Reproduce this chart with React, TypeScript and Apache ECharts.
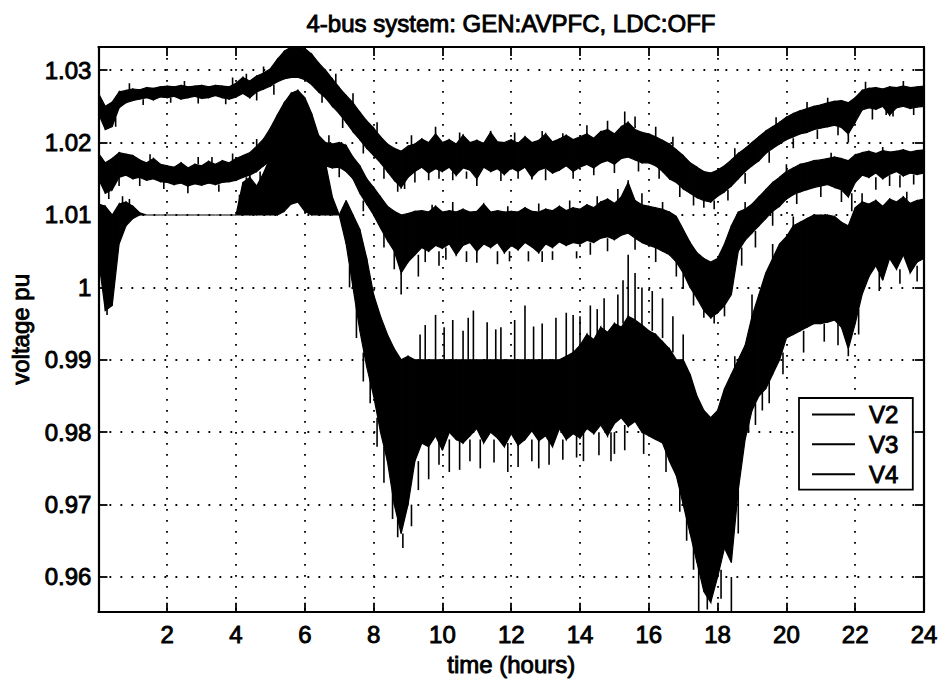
import React, { useEffect, useRef } from "react";
import * as echarts from "echarts";

// Sample times (hours), every 0.2 h over the day
const hours = [
  0, 0.2, 0.4, 0.6, 0.8, 1, 1.2, 1.4, 1.6, 1.8,
  2, 2.2, 2.4, 2.6, 2.8, 3, 3.2, 3.4, 3.6, 3.8,
  4, 4.2, 4.4, 4.6, 4.8, 5, 5.2, 5.4, 5.6, 5.8,
  6, 6.2, 6.4, 6.6, 6.8, 7, 7.2, 7.4, 7.6, 7.8,
  8, 8.2, 8.4, 8.6, 8.8, 9, 9.2, 9.4, 9.6, 9.8,
  10, 10.2, 10.4, 10.6, 10.8, 11, 11.2, 11.4, 11.6, 11.8,
  12, 12.2, 12.4, 12.6, 12.8, 13, 13.2, 13.4, 13.6, 13.8,
  14, 14.2, 14.4, 14.6, 14.8, 15, 15.2, 15.4, 15.6, 15.8,
  16, 16.2, 16.4, 16.6, 16.8, 17, 17.2, 17.4, 17.6, 17.8,
  18, 18.2, 18.4, 18.6, 18.8, 19, 19.2, 19.4, 19.6, 19.8,
  20, 20.2, 20.4, 20.6, 20.8, 21, 21.2, 21.4, 21.6, 21.8,
  22, 22.2, 22.4, 22.6, 22.8, 23, 23.2, 23.4, 23.6, 23.8,
  24,
];

// Bus voltages (pu): lower and upper edge of the fluctuation band per sample
const v2Low = [
  1.0240, 1.0218, 1.0222, 1.0248, 1.0255, 1.0258, 1.0260, 1.0262, 1.0259, 1.0263,
  1.0262, 1.0264, 1.0260, 1.0262, 1.0264, 1.0261, 1.0262, 1.0265, 1.0262, 1.0260,
  1.0263, 1.0268, 1.0262, 1.0270, 1.0274, 1.0278, 1.0284, 1.0288, 1.0290, 1.0290,
  1.0287, 1.0280, 1.0270, 1.0262, 1.0250, 1.0240, 1.0228, 1.0215, 1.0204, 1.0192,
  1.0182, 1.0172, 1.0160, 1.0148, 1.0138, 1.0152, 1.0160, 1.0166, 1.0158, 1.0164,
  1.0160, 1.0166, 1.0155, 1.0165, 1.0162, 1.0150, 1.0166, 1.0160, 1.0164, 1.0156,
  1.0165, 1.0160, 1.0166, 1.0152, 1.0162, 1.0165, 1.0158, 1.0162, 1.0168, 1.0160,
  1.0166, 1.0170, 1.0165, 1.0172, 1.0175, 1.0170, 1.0178, 1.0180, 1.0176, 1.0172,
  1.0172, 1.0168, 1.0160, 1.0150, 1.0145, 1.0136, 1.0130, 1.0124, 1.0120, 1.0118,
  1.0126, 1.0132, 1.0140, 1.0150, 1.0160, 1.0168, 1.0175, 1.0185, 1.0192, 1.0198,
  1.0204, 1.0208, 1.0212, 1.0214, 1.0218, 1.0220, 1.0222, 1.0224, 1.0221, 1.0212,
  1.0228, 1.0245, 1.0248, 1.0246, 1.0250, 1.0238, 1.0248, 1.0250, 1.0247, 1.0249,
  1.0250,
];
const v2High = [
  1.0268, 1.0250, 1.0256, 1.0270, 1.0272, 1.0274, 1.0273, 1.0276, 1.0275, 1.0277,
  1.0278, 1.0277, 1.0279, 1.0277, 1.0278, 1.0279, 1.0277, 1.0279, 1.0278, 1.0277,
  1.0282, 1.0290, 1.0285, 1.0292, 1.0296, 1.0302, 1.0315, 1.0326, 1.0332, 1.0332,
  1.0330, 1.0322, 1.0310, 1.0300, 1.0288, 1.0276, 1.0265, 1.0255, 1.0242, 1.0230,
  1.0220, 1.0208, 1.0198, 1.0192, 1.0188, 1.0195, 1.0198, 1.0205, 1.0200, 1.0212,
  1.0200, 1.0204, 1.0198, 1.0210, 1.0200, 1.0203, 1.0199, 1.0214, 1.0201, 1.0200,
  1.0204, 1.0199, 1.0208, 1.0200, 1.0203, 1.0212, 1.0201, 1.0205, 1.0210, 1.0204,
  1.0208, 1.0212, 1.0206, 1.0215, 1.0218, 1.0212, 1.0222, 1.0228, 1.0218, 1.0214,
  1.0212, 1.0208, 1.0203, 1.0198, 1.0190, 1.0182, 1.0172, 1.0166, 1.0160, 1.0158,
  1.0162, 1.0168, 1.0176, 1.0185, 1.0192, 1.0200, 1.0208, 1.0216, 1.0222, 1.0228,
  1.0235, 1.0240, 1.0244, 1.0247, 1.0250, 1.0252, 1.0255, 1.0257, 1.0258, 1.0255,
  1.0262, 1.0272, 1.0275, 1.0276, 1.0274, 1.0277, 1.0276, 1.0278, 1.0276, 1.0277,
  1.0278,
];

const v3Low = [
  1.0150, 1.0130, 1.0135, 1.0152, 1.0155, 1.0150, 1.0152, 1.0148, 1.0150, 1.0146,
  1.0145, 1.0142, 1.0144, 1.0140, 1.0143, 1.0141, 1.0144, 1.0142, 1.0145, 1.0146,
  1.0148, 1.0152, 1.0155, 1.0160, 1.0168, 1.0175, 1.0185, 1.0192, 1.0198, 1.0195,
  1.0190, 1.0178, 1.0170, 1.0168, 1.0165, 1.0166, 1.0160, 1.0150, 1.0130, 1.0115,
  1.0100, 1.0082, 1.0065, 1.0050, 1.0020, 1.0035, 1.0045, 1.0055, 1.0050, 1.0058,
  1.0054, 1.0060, 1.0045, 1.0058, 1.0062, 1.0050, 1.0060, 1.0055, 1.0062, 1.0048,
  1.0058, 1.0052, 1.0062, 1.0056, 1.0048, 1.0060, 1.0055, 1.0063, 1.0058, 1.0062,
  1.0060, 1.0065, 1.0062, 1.0068, 1.0070, 1.0066, 1.0072, 1.0075, 1.0068, 1.0062,
  1.0058, 1.0055, 1.0050, 1.0045, 1.0035, 1.0020, 1.0000, 0.9985, 0.9968, 0.9958,
  0.9965, 0.9975, 0.9990, 1.0050, 1.0065, 1.0075, 1.0085, 1.0095, 1.0105, 1.0112,
  1.0122, 1.0128, 1.0132, 1.0135, 1.0138, 1.0140, 1.0142, 1.0138, 1.0135, 1.0125,
  1.0145, 1.0155, 1.0152, 1.0158, 1.0150, 1.0156, 1.0160, 1.0154, 1.0158, 1.0156,
  1.0158,
];
const v3High = [
  1.0185, 1.0172, 1.0178, 1.0186, 1.0184, 1.0182, 1.0176, 1.0172, 1.0178, 1.0170,
  1.0168, 1.0166, 1.0172, 1.0165, 1.0170, 1.0168, 1.0174, 1.0170, 1.0175, 1.0172,
  1.0178, 1.0182, 1.0186, 1.0195, 1.0205, 1.0220, 1.0238, 1.0255, 1.0268, 1.0272,
  1.0262, 1.0240, 1.0210, 1.0200, 1.0198, 1.0200, 1.0196, 1.0180, 1.0168, 1.0150,
  1.0138, 1.0125, 1.0112, 1.0105, 1.0100, 1.0102, 1.0105, 1.0106, 1.0104, 1.0112,
  1.0104, 1.0106, 1.0104, 1.0108, 1.0104, 1.0105, 1.0115, 1.0104, 1.0106, 1.0104,
  1.0105, 1.0104, 1.0110, 1.0105, 1.0104, 1.0108, 1.0106, 1.0112, 1.0106, 1.0110,
  1.0108, 1.0114, 1.0110, 1.0118, 1.0122, 1.0116, 1.0125, 1.0145, 1.0120, 1.0114,
  1.0112, 1.0110, 1.0108, 1.0104, 1.0098, 1.0080, 1.0062, 1.0048, 1.0040, 1.0035,
  1.0040, 1.0060, 1.0085, 1.0104, 1.0108, 1.0115, 1.0125, 1.0135, 1.0145, 1.0152,
  1.0160, 1.0165, 1.0170, 1.0172, 1.0175, 1.0176, 1.0178, 1.0180, 1.0178, 1.0175,
  1.0183, 1.0186, 1.0188, 1.0185, 1.0189, 1.0187, 1.0188, 1.0190, 1.0187, 1.0189,
  1.0190,
];

const v4Low = [
  1.0040, 0.9968, 0.9975, 1.0060, 1.0085, 1.0095, 1.0100, 1.0100, 1.0100, 1.0100,
  1.0100, 1.0100, 1.0100, 1.0100, 1.0100, 1.0100, 1.0100, 1.0100, 1.0100, 1.0100,
  1.0100, 1.0100, 1.0100, 1.0100, 1.0100, 1.0100, 1.0100, 1.0105, 1.0115, 1.0118,
  1.0105, 1.0100, 1.0100, 1.0100, 1.0100, 1.0100, 1.0060, 1.0000, 0.9940, 0.9890,
  0.9850, 0.9800, 0.9760, 0.9700, 0.9660, 0.9700, 0.9760, 0.9785, 0.9780, 0.9795,
  0.9775, 0.9800, 0.9790, 0.9785, 0.9795, 0.9805, 0.9785, 0.9800, 0.9792, 0.9780,
  0.9798, 0.9782, 0.9790, 0.9802, 0.9788, 0.9795, 0.9780, 0.9805, 0.9790, 0.9798,
  0.9792, 0.9805, 0.9798, 0.9810, 0.9795, 0.9812, 0.9820, 0.9808, 0.9815, 0.9800,
  0.9795, 0.9790, 0.9785, 0.9760, 0.9740, 0.9700, 0.9660, 0.9620, 0.9580, 0.9565,
  0.9600, 0.9640, 0.9620, 0.9720, 0.9790, 0.9830, 0.9850, 0.9860, 0.9880, 0.9900,
  0.9930, 0.9935, 0.9940, 0.9945, 0.9950, 0.9950, 0.9952, 0.9955, 0.9945, 0.9915,
  0.9950, 0.9990, 1.0015, 1.0030, 1.0010, 1.0040, 1.0025, 1.0045, 1.0020, 1.0035,
  1.0040,
];
const v4High = [
  1.0115, 1.0112, 1.0100, 1.0115, 1.0118, 1.0112, 1.0103, 1.0100, 1.0100, 1.0100,
  1.0100, 1.0100, 1.0100, 1.0100, 1.0100, 1.0100, 1.0100, 1.0100, 1.0100, 1.0100,
  1.0100, 1.0145, 1.0152, 1.0140, 1.0158, 1.0180, 1.0215, 1.0240, 1.0252, 1.0255,
  1.0245, 1.0225, 1.0190, 1.0172, 1.0125, 1.0100, 1.0120, 1.0100, 1.0080, 1.0040,
  0.9990, 0.9960, 0.9935, 0.9915, 0.9900, 0.9905, 0.9900, 0.9900, 0.9900, 0.9900,
  0.9900, 0.9900, 0.9900, 0.9900, 0.9900, 0.9900, 0.9900, 0.9900, 0.9900, 0.9900,
  0.9900, 0.9900, 0.9900, 0.9900, 0.9900, 0.9900, 0.9900, 0.9900, 0.9905, 0.9910,
  0.9920, 0.9935, 0.9928, 0.9945, 0.9938, 0.9950, 0.9945, 0.9960, 0.9955, 0.9948,
  0.9940, 0.9935, 0.9925, 0.9915, 0.9900, 0.9900, 0.9880, 0.9850, 0.9830, 0.9820,
  0.9830, 0.9860, 0.9880, 0.9900, 0.9920, 0.9960, 0.9990, 1.0020, 1.0040, 1.0060,
  1.0070, 1.0085, 1.0090, 1.0095, 1.0100, 1.0100, 1.0100, 1.0098, 1.0090, 1.0085,
  1.0110, 1.0118, 1.0115, 1.0120, 1.0112, 1.0122, 1.0118, 1.0125, 1.0116, 1.0120,
  1.0122,
];

// Short excursions beyond the band: [time, from, to]
const v2Spikes = [
  [0.5, 1.0235, 1.0222], [0.9, 1.0273, 1.0282], [1.3, 1.0260, 1.0252],
  [2.1, 1.0262, 1.0255], [2.5, 1.0278, 1.0285], [2.9, 1.0263, 1.0254],
  [3.7, 1.0262, 1.0253], [3.9, 1.0278, 1.0290], [4.3, 1.0285, 1.0295],
  [4.6, 1.0270, 1.0258], [4.8, 1.0295, 1.0305], [5.1, 1.0280, 1.0266],
  [6.5, 1.0268, 1.0255], [6.9, 1.0282, 1.0295], [7.1, 1.0235, 1.0220],
  [7.4, 1.0254, 1.0268], [7.7, 1.0198, 1.0185], [8.1, 1.0214, 1.0228],
  [8.3, 1.0166, 1.0150], [8.7, 1.0150, 1.0132], [8.9, 1.0150, 1.0136],
  [9.1, 1.0196, 1.0210], [9.2, 1.0160, 1.0145], [9.6, 1.0160, 1.0148],
  [9.8, 1.0210, 1.0222], [9.9, 1.0164, 1.0150], [10.3, 1.0163, 1.0148],
  [10.5, 1.0202, 1.0214], [10.7, 1.0160, 1.0150], [11.0, 1.0150, 1.0140],
  [11.4, 1.0200, 1.0216], [11.7, 1.0160, 1.0147], [12.1, 1.0200, 1.0214],
  [12.2, 1.0160, 1.0150], [12.6, 1.0160, 1.0149], [12.9, 1.0204, 1.0216],
  [13.0, 1.0164, 1.0148], [13.5, 1.0200, 1.0213], [13.8, 1.0162, 1.0150],
  [14.2, 1.0212, 1.0224], [14.4, 1.0166, 1.0155], [14.8, 1.0216, 1.0230],
  [15.0, 1.0172, 1.0158], [15.3, 1.0220, 1.0243], [15.6, 1.0220, 1.0236],
  [15.7, 1.0175, 1.0160], [16.2, 1.0208, 1.0222], [16.3, 1.0165, 1.0150],
  [16.7, 1.0195, 1.0208], [16.9, 1.0140, 1.0125], [17.3, 1.0128, 1.0113],
  [17.6, 1.0125, 1.0110], [17.9, 1.0120, 1.0108], [18.3, 1.0135, 1.0120],
  [18.5, 1.0180, 1.0192], [18.8, 1.0158, 1.0143], [19.5, 1.0188, 1.0172],
  [19.7, 1.0222, 1.0235], [20.2, 1.0206, 1.0192], [20.6, 1.0246, 1.0256],
  [20.9, 1.0218, 1.0205], [21.2, 1.0254, 1.0262], [21.5, 1.0222, 1.0210],
  [21.8, 1.0215, 1.0200], [22.3, 1.0274, 1.0284], [22.5, 1.0248, 1.0232],
  [22.9, 1.0250, 1.0238], [23.1, 1.0248, 1.0236], [23.4, 1.0277, 1.0285],
  [23.7, 1.0248, 1.0238],
];
const v3Spikes = [
  [0.3, 1.0135, 1.0122], [0.6, 1.0152, 1.0140], [1.2, 1.0152, 1.0140],
  [1.5, 1.0175, 1.0184], [1.9, 1.0146, 1.0136], [2.6, 1.0140, 1.0130],
  [2.9, 1.0170, 1.0180], [3.3, 1.0172, 1.0180], [3.5, 1.0142, 1.0132],
  [3.9, 1.0174, 1.0185], [4.3, 1.0152, 1.0140], [4.6, 1.0195, 1.0205],
  [5.0, 1.0175, 1.0160], [6.5, 1.0168, 1.0155], [6.7, 1.0198, 1.0210],
  [7.0, 1.0166, 1.0152], [7.7, 1.0120, 1.0105], [8.3, 1.0075, 1.0055],
  [8.6, 1.0050, 1.0025], [8.8, 1.0020, 0.9990], [9.3, 1.0045, 1.0015],
  [9.5, 1.0055, 1.0035], [9.7, 1.0104, 1.0114], [9.9, 1.0050, 1.0030],
  [10.1, 1.0055, 1.0038], [10.3, 1.0104, 1.0118], [10.7, 1.0050, 1.0035],
  [11.0, 1.0050, 1.0034], [11.6, 1.0050, 1.0032], [11.9, 1.0104, 1.0112],
  [11.95, 1.0050, 1.0036], [12.5, 1.0050, 1.0036], [12.8, 1.0105, 1.0116],
  [12.9, 1.0050, 1.0035], [13.2, 1.0050, 1.0038], [13.7, 1.0108, 1.0120],
  [13.9, 1.0050, 1.0040], [14.3, 1.0062, 1.0045], [14.5, 1.0112, 1.0126],
  [14.8, 1.0068, 1.0050], [15.1, 1.0120, 1.0136], [15.4, 1.0125, 1.0148],
  [15.6, 1.0070, 1.0052], [15.8, 1.0114, 1.0130], [16.2, 1.0055, 1.0035],
  [16.4, 1.0108, 1.0118], [16.8, 1.0040, 1.0015], [17.0, 1.0020, 0.9998],
  [17.3, 1.0000, 0.9975], [17.6, 0.9968, 0.9958], [17.9, 0.9965, 0.9950],
  [18.2, 0.9975, 0.9960], [18.7, 1.0055, 1.0030], [18.8, 1.0108, 1.0118],
  [19.1, 1.0078, 1.0055], [19.6, 1.0105, 1.0085], [20.0, 1.0160, 1.0170],
  [20.3, 1.0130, 1.0115], [21.0, 1.0140, 1.0125], [21.3, 1.0178, 1.0186],
  [21.6, 1.0135, 1.0118], [21.9, 1.0130, 1.0105], [22.6, 1.0152, 1.0135],
  [22.8, 1.0187, 1.0194], [23.0, 1.0155, 1.0140], [23.3, 1.0155, 1.0138],
  [23.7, 1.0156, 1.0142],
];
const v4Spikes = [
  [0.25, 0.9975, 0.9962], [0.7, 1.0110, 1.0126], [0.9, 1.0110, 1.0122],
  [4.1, 1.0100, 1.0128], [4.4, 1.0100, 1.0165], [4.7, 1.0100, 1.0160],
  [4.95, 1.0100, 1.0190], [5.1, 1.0100, 1.0210], [7.3, 1.0030, 1.0000],
  [7.5, 0.9980, 0.9930], [7.7, 0.9910, 0.9870], [7.9, 0.9880, 0.9840],
  [8.1, 0.9820, 0.9780], [8.3, 0.9780, 0.9730], [8.55, 0.9720, 0.9680],
  [8.7, 0.9680, 0.9655], [8.85, 0.9660, 0.9640], [9.1, 0.9700, 0.9670],
  [9.3, 0.9760, 0.9720], [9.35, 0.9900, 0.9935], [9.5, 0.9900, 0.9948],
  [9.6, 0.9780, 0.9735], [9.8, 0.9900, 0.9962], [9.9, 0.9790, 0.9755],
  [10.05, 0.9900, 0.9945], [10.2, 0.9790, 0.9745], [10.3, 0.9900, 0.9955],
  [10.5, 0.9790, 0.9748], [10.6, 0.9900, 0.9940], [10.75, 0.9900, 0.9958],
  [10.8, 0.9790, 0.9760], [10.9, 0.9900, 0.9968], [11.1, 0.9790, 0.9750],
  [11.3, 0.9900, 0.9952], [11.5, 0.9790, 0.9758], [11.55, 0.9900, 0.9942],
  [11.7, 0.9900, 0.9945], [11.9, 0.9785, 0.9745], [12.1, 0.9900, 0.9955],
  [12.2, 0.9790, 0.9752], [12.4, 0.9900, 0.9975], [12.6, 0.9790, 0.9760],
  [12.65, 0.9900, 0.9946], [12.8, 0.9790, 0.9750], [12.9, 0.9900, 0.9950],
  [13.1, 0.9790, 0.9755], [13.3, 0.9900, 0.9958], [13.5, 0.9790, 0.9762],
  [13.6, 0.9900, 0.9965], [13.8, 0.9905, 0.9962], [13.9, 0.9795, 0.9765],
  [14.0, 0.9915, 0.9960], [14.1, 0.9800, 0.9760], [14.3, 0.9925, 0.9975],
  [14.5, 0.9930, 0.9970], [14.55, 0.9800, 0.9768], [14.7, 0.9935, 0.9985],
  [14.9, 0.9800, 0.9760], [15.0, 0.9800, 0.9770], [15.1, 0.9945, 0.9990],
  [15.25, 0.9950, 1.0010], [15.3, 0.9810, 0.9775], [15.4, 0.9955, 1.0045],
  [15.6, 0.9950, 1.0020], [15.8, 0.9948, 1.0000], [15.85, 0.9805, 0.9770],
  [16.1, 0.9940, 0.9995], [16.4, 0.9930, 0.9985], [16.5, 0.9780, 0.9745],
  [16.7, 0.9910, 0.9960], [16.9, 0.9730, 0.9690], [17.0, 0.9900, 0.9935],
  [17.1, 0.9690, 0.9650], [17.3, 0.9650, 0.9610], [17.45, 0.9620, 0.9552],
  [17.7, 0.9580, 0.9555], [18.1, 0.9610, 0.9570], [18.4, 0.9600, 0.9552],
  [18.5, 0.9885, 0.9905], [18.6, 0.9720, 0.9660], [18.9, 0.9830, 0.9800],
  [19.0, 0.9940, 0.9990], [19.1, 0.9840, 0.9810], [19.3, 0.9860, 0.9830],
  [19.5, 0.9870, 0.9840], [19.6, 1.0030, 1.0060], [19.9, 0.9910, 0.9880],
  [20.2, 1.0080, 1.0098], [20.5, 0.9940, 0.9910], [21.1, 0.9950, 0.9925],
  [21.5, 0.9950, 0.9920], [21.8, 0.9915, 0.9905], [22.1, 0.9970, 0.9935],
  [22.2, 1.0115, 1.0130], [22.7, 1.0020, 0.9995], [23.3, 1.0025, 1.0005],
  [23.5, 1.0120, 1.0132], [23.8, 1.0030, 1.0008],
];

const seriesNames = ["V2", "V3", "V4"];
const xTickStep = 2;
const yMin = 0.9552;
const yMax = 1.0332;

const FONT = '"Liberation Sans", Arial, Helvetica, sans-serif';
const INK = "#000";

function bandRows(low: number[], high: number[]) {
  const rows: number[][] = [];
  for (let i = 0; i < hours.length - 1; i++) {
    rows.push([hours[i], low[i], high[i], hours[i + 1], low[i + 1], high[i + 1]]);
  }
  return rows;
}

const renderBand = (_params: any, api: any) => {
  const a = api.coord([api.value(0), api.value(2)]);
  const b = api.coord([api.value(3), api.value(5)]);
  const c = api.coord([api.value(3), api.value(4)]);
  const d = api.coord([api.value(0), api.value(1)]);
  return {
    type: "polygon",
    shape: { points: [a, b, c, d] },
    style: { fill: INK, stroke: INK, lineWidth: 1.2 },
  };
};

const renderSpike = (_params: any, api: any) => {
  const p = api.coord([api.value(0), api.value(1)]);
  const q = api.coord([api.value(0), api.value(2)]);
  return {
    type: "line",
    shape: { x1: p[0], y1: p[1], x2: q[0], y2: q[1] },
    style: { stroke: INK, lineWidth: 1.6 },
  };
};

function curveSeries(name: string, low: number[], high: number[], spikes: number[][]) {
  return [
    {
      name,
      type: "custom",
      coordinateSystem: "cartesian2d",
      renderItem: renderBand,
      data: bandRows(low, high),
      encode: { x: [0, 3], y: [1, 2, 4, 5] },
      itemStyle: { color: INK },
      clip: true,
      silent: true,
    },
    {
      name: name + " spikes",
      type: "custom",
      coordinateSystem: "cartesian2d",
      renderItem: renderSpike,
      data: spikes,
      encode: { x: 0, y: [1, 2] },
      itemStyle: { color: INK },
      clip: true,
      silent: true,
    },
  ];
}

const dotted = { color: INK, width: 1.8, type: [1.8, 9.2] as number[] };
const tickText = {
  fontSize: 24,
  fontFamily: FONT,
  color: INK,
  textBorderColor: INK,
  textBorderWidth: 0.9,
};

const option: any = {
  animation: false,
  backgroundColor: "#fff",
  grid: { left: 97, right: 20, top: 47, bottom: 65, containLabel: false },
  graphic: [
    {
      type: "text",
      x: 511,
      y: 23,
      style: {
        text: "4-bus system: GEN:AVPFC, LDC:OFF",
        fontSize: 24,
        fontFamily: FONT,
        fill: INK,
        stroke: INK,
        lineWidth: 0.9,
        align: "center",
        verticalAlign: "middle",
      },
    },
  ],
  legend: {
    data: seriesNames.map((n) => ({ name: n, icon: "rect" })),
    orient: "vertical",
    left: 799,
    top: 398,
    padding: [4, 14, 3, 13],
    itemWidth: 43,
    itemHeight: 2,
    itemGap: 5,
    selectedMode: false,
    backgroundColor: "#fff",
    borderColor: INK,
    borderWidth: 1.8,
    borderRadius: 0,
    itemStyle: { color: INK },
    textStyle: { ...tickText, lineHeight: 24, padding: [0, 0, 0, 9] },
  },
  xAxis: [
    {
      type: "value",
      min: 0,
      max: 24,
      interval: xTickStep,
      position: "bottom",
      name: "time (hours)",
      nameLocation: "middle",
      nameGap: 38,
      nameTextStyle: tickText,
      axisLine: { show: true, onZero: false, lineStyle: { color: INK, width: 2.2 } },
      axisTick: { show: true, inside: true, length: 9, lineStyle: { color: INK, width: 1.8 } },
      axisLabel: { ...tickText, margin: 11, showMinLabel: false },
      splitLine: { show: true, lineStyle: dotted },
    },
    {
      type: "value",
      min: 0,
      max: 24,
      interval: xTickStep,
      position: "top",
      axisLine: { show: true, onZero: false, lineStyle: { color: INK, width: 2.2 } },
      axisTick: { show: true, inside: true, length: 9, lineStyle: { color: INK, width: 1.8 } },
      axisLabel: { show: false },
      splitLine: { show: false },
    },
  ],
  yAxis: [
    {
      type: "value",
      min: yMin,
      max: yMax,
      splitNumber: 8,
      position: "left",
      name: "voltage pu",
      nameLocation: "middle",
      nameGap: 66,
      nameTextStyle: tickText,
      axisLine: { show: true, onZero: false, lineStyle: { color: INK, width: 2.2 } },
      axisTick: { show: true, inside: true, length: 9, lineStyle: { color: INK, width: 1.8 } },
      axisLabel: { ...tickText, margin: 7, showMinLabel: false, showMaxLabel: false },
      splitLine: { show: true, lineStyle: dotted },
    },
    {
      type: "value",
      min: yMin,
      max: yMax,
      splitNumber: 8,
      position: "right",
      axisLine: { show: true, onZero: false, lineStyle: { color: INK, width: 2.2 } },
      axisTick: { show: true, inside: true, length: 9, lineStyle: { color: INK, width: 1.8 } },
      axisLabel: { show: false },
      splitLine: { show: false },
    },
  ],
  series: [
    ...curveSeries("V2", v2Low, v2High, v2Spikes),
    ...curveSeries("V3", v3Low, v3High, v3Spikes),
    ...curveSeries("V4", v4Low, v4High, v4Spikes),
  ],
};

export default function App() {
  const ref = useRef<HTMLDivElement>(null);
  useEffect(() => {
    if (!ref.current) return;
    const chart = echarts.init(ref.current, null, { renderer: "svg" });
    chart.setOption(option);
    return () => chart.dispose();
  }, []);
  return (
    <div
      ref={ref}
      style={{ position: "fixed", left: 0, top: 0, width: 944, height: 682, background: "#fff" }}
    />
  );
}
